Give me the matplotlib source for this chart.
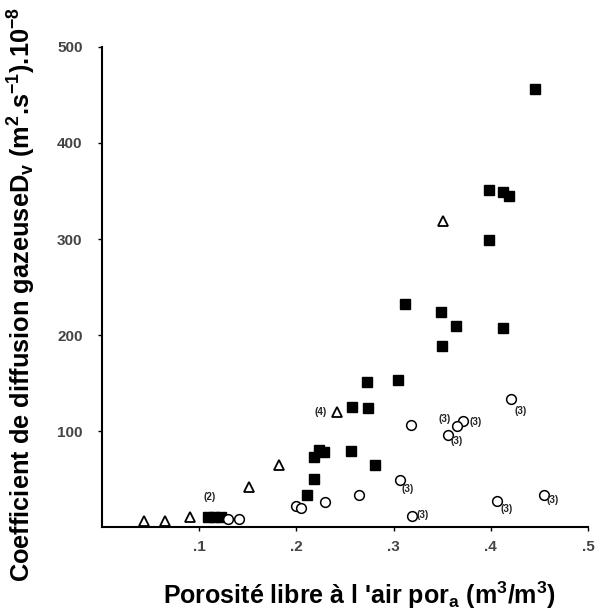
import matplotlib
matplotlib.use("Agg")
import matplotlib.pyplot as plt

plt.rcParams['font.family'] = ['Liberation Sans', 'DejaVu Sans']
plt.rcParams['mathtext.fontset'] = 'custom'
plt.rcParams['mathtext.rm'] = 'Liberation Sans:bold'
plt.rcParams['mathtext.it'] = 'Liberation Sans:bold'
plt.rcParams['mathtext.bf'] = 'Liberation Sans:bold'

# filled squares
squares_x = [0.445, 0.398, 0.413, 0.419, 0.398, 0.312, 0.349, 0.364, 0.413, 0.350,
             0.273, 0.304, 0.257, 0.274, 0.223, 0.228, 0.218, 0.256, 0.281, 0.218,
             0.211, 0.109, 0.115, 0.122]
squares_y = [456, 351, 349, 345, 299, 232, 224, 209, 207, 189,
             151, 153, 125, 124, 80, 78, 73, 79, 65, 50,
             34, 11, 11, 11]

# open triangles
triangles_x = [0.351, 0.242, 0.182, 0.151, 0.043, 0.065, 0.090]
triangles_y = [319, 120, 65, 42, 6, 6, 11]

# open circles
circles_x = [0.421, 0.318, 0.371, 0.365, 0.356, 0.307, 0.264, 0.229, 0.200, 0.205,
             0.319, 0.406, 0.455, 0.130, 0.141]
circles_y = [133, 106, 111, 105, 96, 49, 34, 26, 22, 20,
             12, 27, 34, 9, 9]

# small count labels next to points
notes = ['(2)', '(4)', '(3)', '(3)', '(3)', '(3)', '(3)', '(3)', '(3)', '(3)']
notes_x = [0.111, 0.225, 0.431, 0.352, 0.384, 0.365, 0.314, 0.330, 0.416, 0.464]
notes_y = [31, 120, 121, 113, 109, 90, 40, 13, 19, 28]

xticks = [0.1, 0.2, 0.3, 0.4, 0.5]
xticklabels = ['.1', '.2', '.3', '.4', '.5']
yticks = [100, 200, 300, 400, 500]

fig = plt.figure(figsize=(5.97, 6.13), dpi=100)
ax = fig.add_axes([0.171, 0.140, 0.814, 0.7835])

ax.plot(squares_x, squares_y, 's', color='k', markersize=6.5, linestyle='none')
ax.plot(triangles_x, triangles_y, '^', markerfacecolor='white', markeredgecolor='k',
        markeredgewidth=1.3, markersize=7, linestyle='none')
ax.plot(circles_x, circles_y, 'o', markerfacecolor='white', markeredgecolor='k',
        markeredgewidth=1.1, markersize=7, linestyle='none')

for t, x, y in zip(notes, notes_x, notes_y):
    ax.text(x, y, t, fontsize=7, fontweight='bold', ha='center', va='center', color='#222')

ax.set_xlim(0, 0.5)
ax.set_ylim(0, 500)
ax.set_xticks(xticks)
ax.set_xticklabels(xticklabels)
ax.set_yticks(yticks)
ax.spines['top'].set_visible(False)
ax.spines['right'].set_visible(False)
ax.spines['left'].set_linewidth(1.5)
ax.spines['bottom'].set_linewidth(1.5)
ax.tick_params(length=3, width=1, labelsize=11, labelcolor='#444')
ax.tick_params(axis='y', pad=11)
ax.tick_params(axis='x', pad=6)
for lab in ax.get_xticklabels() + ax.get_yticklabels():
    lab.set_fontweight('bold')

fig.text(0.603, 0.029, "Porosité libre à l 'air por$_{a}$ (m$^{3}$/m$^{3}$)",
         ha='center', va='center', fontsize=18, fontweight='bold')
fig.text(0.037, 0.519, "Coefficient de diffusion gazeuseD$_{v}$ (m$^{2}$.s$^{-1}$).10$^{-8}$",
         ha='center', va='center', rotation=90, fontsize=18.3, fontweight='bold')

fig.savefig("out.png", dpi=100)
